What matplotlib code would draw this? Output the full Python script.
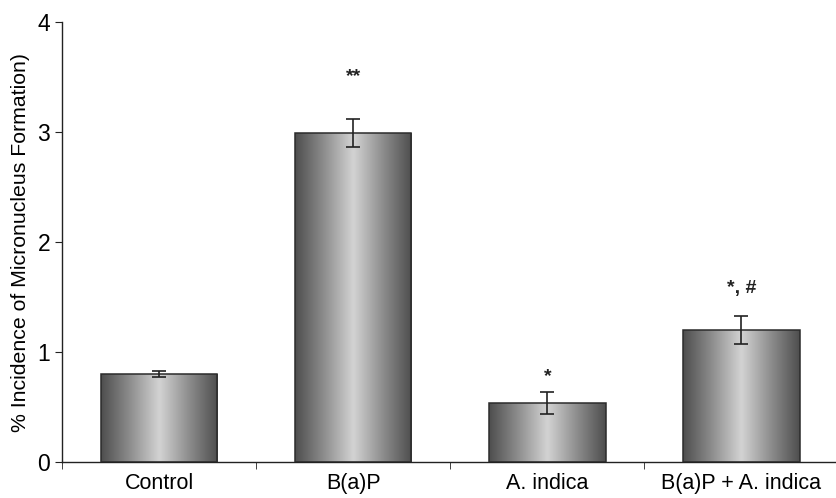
import numpy as np
import matplotlib.pyplot as plt
from matplotlib.colors import LinearSegmentedColormap
from matplotlib.patches import Rectangle

categories = ["Control", "B(a)P", "A. indica", "B(a)P + A. indica"]
values = [0.80, 2.99, 0.54, 1.20]
errors = [0.03, 0.13, 0.10, 0.13]
marks = ["", "**", "*", "*, #"]
mark_y = [None, 3.5, 0.78, 1.58]

plt.rcParams['font.family'] = ['Liberation Sans', 'DejaVu Sans']

fig = plt.figure(figsize=(8.36, 4.98), dpi=100)
ax = fig.add_axes([62 / 836, 1 - 462 / 498, 1 - 62 / 836 + 0.003, (462 - 22) / 498])

# grey metallic shading: dark edges, light middle
shade = LinearSegmentedColormap.from_list(
    "shade", ["#4e4e4e", "#8e8e8e", "#d3d3d3", "#8e8e8e", "#4e4e4e"])
grad = np.linspace(0, 1, 256).reshape(1, -1)

x = np.arange(len(categories))
width = 0.6
bars = ax.bar(x, values, width, color="none", edgecolor="#2b2b2b", linewidth=1.1, zorder=3)
for b in bars:
    x0, y0 = b.get_x(), b.get_y()
    w, h = b.get_width(), b.get_height()
    im = ax.imshow(grad, cmap=shade, aspect="auto", extent=[x0, x0 + w, y0, y0 + h],
                   zorder=2, interpolation="bicubic")
    im.set_clip_path(Rectangle((x0, y0), w, h, transform=ax.transData))

ax.errorbar(x, values, yerr=errors, fmt="none", ecolor="#222222", elinewidth=1.2,
            capsize=5, capthick=1.2, zorder=4)

for i, (m, my) in enumerate(zip(marks, mark_y)):
    if m:
        ax.text(x[i], my, m, ha="center", va="center", fontsize=14, fontweight="bold",
                color="#222222")

ax.set_xlim(-0.5, 3.5)
ax.set_ylim(0, 4)
ax.set_yticks([0, 1, 2, 3, 4])
ax.set_xticks(x)
ax.set_xticklabels(categories)
ax.set_xticks(np.arange(-0.5, 4.0, 1.0), minor=True)
ax.tick_params(axis="x", which="major", length=0, pad=8, labelsize=15.5)
ax.tick_params(axis="x", which="minor", length=5, direction="out", color="#222222")
ax.tick_params(axis="y", length=5, direction="out", labelsize=16.5, color="#222222")
ax.set_ylabel("% Incidence of Micronucleus Formation)", fontsize=15.3, labelpad=5)

for s in ["top", "right"]:
    ax.spines[s].set_visible(False)
for s in ["left", "bottom"]:
    ax.spines[s].set_color("#222222")
    ax.spines[s].set_linewidth(1.0)

fig.savefig("out.png", dpi=100)
